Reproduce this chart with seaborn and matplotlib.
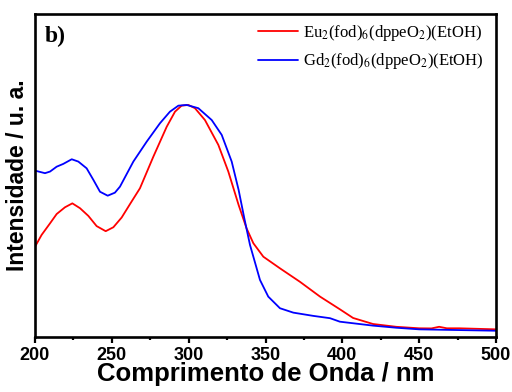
import numpy as np
import pandas as pd
import matplotlib
matplotlib.use("Agg")
import matplotlib.pyplot as plt
import seaborn as sns
from matplotlib.ticker import MultipleLocator

# Data (normalised intensity)
eu_wl = [200, 204.3, 209.8, 214.1, 219.5, 224.3, 229.3, 234.7, 240.1, 246, 251, 256.4,
         262.5, 268.3, 277, 285.7, 291.1, 295.4, 299.8, 304.1, 310.6, 319.3, 325.8,
         332.5, 337.7, 342.1, 348.6, 359.4, 372.4, 385.5, 398.5, 407, 420, 435, 450,
         458, 463, 468, 476, 500]
eu_int = [0.389, 0.440, 0.490, 0.530, 0.559, 0.576, 0.555, 0.522, 0.478, 0.456, 0.473,
          0.515, 0.580, 0.641, 0.777, 0.906, 0.971, 0.997, 1.0, 0.986, 0.935, 0.828,
          0.713, 0.569, 0.468, 0.404, 0.346, 0.296, 0.238, 0.174, 0.119, 0.082, 0.056,
          0.044, 0.0375, 0.037, 0.044, 0.0375, 0.0375, 0.033]

gd_wl = [200, 206.5, 209.8, 214.1, 218.4, 223.9, 228.2, 233.6, 238, 242.3, 247.3, 252,
         255.3, 264, 272.7, 281.3, 287.8, 293.3, 298.7, 306.3, 315, 321.5, 328, 332.5,
         336.2, 339.9, 342.1, 346.4, 351.8, 359.4, 368.1, 381.1, 392, 398.4, 420, 435,
         450, 500]
gd_int = [0.717, 0.706, 0.713, 0.734, 0.746, 0.766, 0.756, 0.727, 0.677, 0.626, 0.609,
          0.622, 0.648, 0.756, 0.842, 0.921, 0.971, 0.997, 1.0, 0.986, 0.935, 0.871,
          0.756, 0.634, 0.512, 0.397, 0.346, 0.246, 0.174, 0.124, 0.105, 0.091, 0.081,
          0.066, 0.049, 0.040, 0.033, 0.027]

eu_label = r"Eu$_2$(fod)$_6$(dppeO$_2$)(EtOH)"
gd_label = r"Gd$_2$(fod)$_6$(dppeO$_2$)(EtOH)"
x_ticks = [200, 250, 300, 350, 400, 450, 500]

sns.set_style("ticks")
plt.rcParams["font.family"] = ["Liberation Sans", "DejaVu Sans"]
plt.rcParams["mathtext.fontset"] = "stix"
plt.rcParams["text.color"] = "black"
plt.rcParams["axes.labelcolor"] = "black"
plt.rcParams["xtick.color"] = "black"
plt.rcParams["ytick.color"] = "black"

df = pd.concat([
    pd.DataFrame({"wl": eu_wl, "I": eu_int, "s": eu_label}),
    pd.DataFrame({"wl": gd_wl, "I": gd_int, "s": gd_label}),
])

fig = plt.figure(figsize=(5.12, 3.92), dpi=100)
ax = fig.add_axes([35/512, 1-337/392, (496-35)/512, (337-14)/392])
sns.lineplot(data=df, x="wl", y="I", hue="s", palette=["#ff0000", "#0000ff"],
             sort=False, estimator=None, linewidth=1.3, ax=ax)

ax.set_xlim(200, 500)
ax.set_ylim(0, 1.392)
ax.set_xticks(x_ticks)
ax.set_xticklabels([str(t) for t in x_ticks], fontsize=13, fontweight="bold", color="black")
ax.xaxis.set_minor_locator(MultipleLocator(25))
ax.set_yticks([])
ax.tick_params(axis="x", which="major", direction="out", length=4.5, width=1.6, pad=2.5,
               color="black")
ax.tick_params(axis="x", which="minor", direction="out", length=2.5, width=1.6,
               color="black")
for sp in ax.spines.values():
    sp.set_linewidth(1.9)
    sp.set_color("black")
    sp.set_visible(True)

ax.set_xlabel("Comprimento de Onda / nm", fontsize=18.5, fontweight="bold", labelpad=-1,
              color="black")
ax.set_ylabel("Intensidade / u. a.", fontsize=16.5, fontweight="bold", labelpad=4,
              color="black")

ax.text(0.022, 0.962, "b)", transform=ax.transAxes, fontsize=17, fontweight="bold",
        family=["Liberation Serif", "DejaVu Serif"], va="top", ha="left", color="black")

leg = ax.legend(loc="upper right", frameon=False,
                prop={"family": "Liberation Serif", "size": 12},
                handlelength=2.4, handletextpad=0.35, labelspacing=0.5,
                bbox_to_anchor=(1.0, 1.008), borderaxespad=0.3)
leg.set_title(None)
for t in leg.get_texts():
    t.set_color("black")

fig.savefig("out.png", dpi=100)
